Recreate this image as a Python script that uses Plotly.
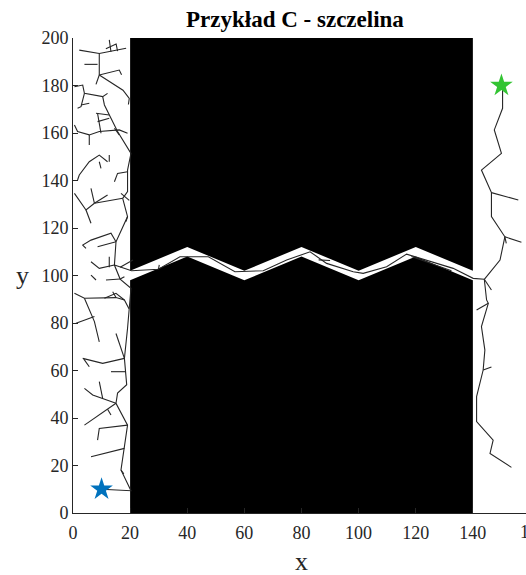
import plotly.graph_objects as go

# Workspace obstacles: two black blocks separated by a zig-zag slot
slot_x = [20, 40, 60, 80, 100, 120, 140]
slot_upper = [102, 112, 102, 112, 102, 112, 102]
slot_lower = [98, 108, 98, 108, 98, 108, 98]
y_top, y_bottom = 200, 0

start_pt = (10, 10)
goal_pt = (150, 180)

# RRT branches grown on the left of the obstacle (polylines, x/y pairs)
left_branches = [
    [(10, 10), (20.3, 9.4), (16.8, 18.1), (18, 27.2), (19.1, 37), (15.05, 46.2), (15.6, 50.5),
     (18.8, 54), (18.5, 59.5), (18, 65.1), (19.1, 77.8), (19.6, 86), (20.3, 94.6), (16.5, 98.5),
     (14.5, 104.4), (15.05, 114.2), (19.1, 124.8), (17.4, 132.5), (19.1, 135.3), (19.1, 144.4),
     (20.3, 151.4), (15.6, 160.6), (12.7, 167.6), (11, 171.8), (10.4, 175.3)],
    [(16.8, 18.1), (17.8, 16.5)],
    [(6.3, 23.7), (18, 27.2)],
    [(19.1, 37), (13.9, 36.3), (9.2, 35.6), (8.6, 30.7)],
    [(15.05, 46.2), (4, 37)],
    [(12.1, 43.7), (13.3, 41.3)],
    [(15.05, 46.2), (6.9, 49.7), (4, 52.5)],
    [(10.4, 48.2), (9.2, 55.3)],
    [(18.5, 59.5), (13.3, 59.5)],
    [(18, 65.1), (10.4, 63), (3.4, 65.1)],
    [(3.8, 64.8), (5.7, 61.6)],
    [(18, 65.1), (17.4, 67.2), (15.05, 75.6)],
    [(19.6, 86), (18, 89.7), (15.05, 90.7), (4, 90.4), (0.5, 92.5)],
    [(15.05, 90.7), (13.9, 93.2)],
    [(11, 90.4), (15.05, 92.5), (18, 89.7)],
    [(4, 90.4), (7.5, 80.6), (9.2, 72.1)],
    [(1.05, 79.9), (7.5, 82.7)],
    [(16.5, 98.5), (11.55, 98.1)],
    [(16.5, 98.5), (18, 99.5)],
    [(8.05, 98.1), (6.3, 100.2)],
    [(14.5, 104.4), (9.2, 103), (6.3, 105.8)],
    [(12.7, 107.9), (12.7, 103.5)],
    [(16.5, 103.5), (21, 106.5)],
    [(15.05, 114.2), (8.6, 112.1)],
    [(15.05, 114.2), (13.3, 117.8), (6.3, 114.9), (3.4, 112.8), (4.55, 111.4)],
    [(19.1, 124.8), (18.55, 122.7)],
    [(17.4, 132.5), (7.5, 130.4)],
    [(7.5, 130.4), (4.55, 127.6), (0.5, 134.6)],
    [(4.55, 127.6), (6.3, 122)],
    [(7.5, 130.4), (6.3, 136.7)],
    [(7.5, 130.4), (12.1, 133.9)],
    [(16.8, 134.6), (19.7, 131.6)],
    [(19.1, 143.7), (15.6, 143), (14.5, 139.5)],
    [(1.6, 140.2), (2.2, 142.3), (5.7, 147.9), (9.2, 150.7), (12.1, 147.9)],
    [(9.2, 147.9), (9.8, 145.1)],
    [(12.7, 150.7), (12.7, 147.9)],
    [(0.5, 163.4), (1.6, 160.6), (5.7, 159.2), (9.2, 160.6), (16.2, 161.3), (19.1, 159.9)],
    [(5.7, 159.2), (5.7, 154.9)],
    [(14.5, 162), (16.2, 159.2)],
    [(8.05, 168.3), (12.7, 167.6)],
    [(8.6, 164.8), (12.7, 166.2)],
    [(8.6, 168.3), (9.8, 159.9)],
    [(0.5, 179.5), (3.4, 180.2), (4, 176.7), (10.4, 175.3), (12.1, 176.7)],
    [(4, 176.7), (2.8, 171.1), (1.6, 170.4)],
    [(2.8, 171.8), (5.7, 172.5)],
    [(9.2, 184.4), (17.5, 178), (19.7, 174.6), (19.4, 172)],
    [(9.2, 184.4), (16.2, 186.5), (17, 184.5)],
    [(8.05, 180.5), (9.2, 184.4)],
    [(9.2, 193.5), (9.2, 184.4)],
    [(4, 188.9), (8.6, 188.9)],
    [(2.2, 194.9), (9.2, 193.5), (18.6, 195.7)],
    [(11.5, 195.5), (15.1, 197.5), (15.6, 194.5)],
    [(12.7, 199.2), (13.3, 194.2)],
]

# Branches threading through the slot
slot_branches = [
    [(14.5, 104.4), (20.5, 102), (29.9, 102.6), (37.45, 107.9), (47.4, 107.9), (56.7, 101.6),
     (66.6, 102), (74.8, 106.5), (83, 110), (88.8, 105.1), (98.1, 101.6), (101.6, 100.9),
     (109.8, 103.7), (116.8, 109), (133.1, 103), (140.1, 98.8), (144, 98.4)],
    [(29.9, 102.6), (30.2, 104.5)],
    [(86, 106.6), (90, 106.3)],
    [(118.5, 108.0), (132.5, 102.0)],
]

# Branches on the right of the obstacle, up to the goal
right_branches = [
    [(144, 98.4), (149.5, 106.5), (151.2, 116.3), (146.5, 124.8), (146.5, 134.9), (143, 144.4),
     (150, 151.4), (147.5, 161.3), (150.4, 170.4), (150.4, 179.8)],
    [(146.5, 134.9), (155.9, 131.8)],
    [(151.2, 116.3), (157, 114)],
    [(151.2, 116.3), (151.7, 113.5)],
    [(144, 98.4), (146.5, 93.9)],
    [(144, 98.4), (144.8, 89.7), (145.4, 88.3), (143, 78.5), (144.2, 68.6), (143.6, 60.2),
     (141.3, 49), (141.3, 38.5), (147.1, 30.7), (146, 25.1), (153.5, 19.2)],
    [(145.4, 88.3), (141.3, 85.5)],
    [(143.6, 60.2), (146.5, 61.5)],
]

x_ticks = [0, 20, 40, 60, 80, 100, 120, 140, 160]
y_ticks = [0, 20, 40, 60, 80, 100, 120, 140, 160, 180, 200]
x_range = [0, 158.6]
y_range = [0, 200]

SERIF = "Liberation Serif, Times New Roman, serif"
AXIS_COLOR = "#262626"
TICK_SIZE = 18

fig = go.Figure()

# obstacle blocks
upper_x = slot_x + [slot_x[-1], slot_x[0]]
upper_y = slot_upper + [y_top, y_top]
lower_x = slot_x + [slot_x[-1], slot_x[0]]
lower_y = slot_lower + [y_bottom, y_bottom]
for px, py in ((upper_x, upper_y), (lower_x, lower_y)):
    fig.add_trace(go.Scatter(x=px, y=py, fill="toself", fillcolor="black",
                             mode="lines", line=dict(width=0, color="black"),
                             hoverinfo="skip", showlegend=False))

# tree edges as one None-separated line trace
ex, ey = [], []
for branch in left_branches + slot_branches + right_branches:
    for (bx, by) in branch:
        ex.append(bx)
        ey.append(by)
    ex.append(None)
    ey.append(None)
fig.add_trace(go.Scatter(x=ex, y=ey, mode="lines",
                         line=dict(color="#262626", width=1.1),
                         hoverinfo="skip", showlegend=False))

# start and goal markers
fig.add_trace(go.Scatter(x=[start_pt[0]], y=[start_pt[1]], mode="markers",
                         marker=dict(symbol="star", size=17, color="#0072BD",
                                     line=dict(width=0)),
                         showlegend=False, cliponaxis=False))
fig.add_trace(go.Scatter(x=[goal_pt[0]], y=[goal_pt[1]], mode="markers",
                         marker=dict(symbol="star", size=17, color="#33c433",
                                     line=dict(width=0)),
                         showlegend=False, cliponaxis=False))

W, H = 526, 575
ML, MT, MB, MR = 73, 38, 62, 0

fig.update_layout(
    width=W, height=H,
    margin=dict(l=ML, r=MR, t=MT, b=MB),
    paper_bgcolor="white", plot_bgcolor="white",
    font=dict(family=SERIF, size=TICK_SIZE, color=AXIS_COLOR),
    title=dict(text="<b>Przykład C - szczelina</b>",
               font=dict(family=SERIF, size=23, color="black"),
               x=0.49, xanchor="center", xref="paper",
               y=1 - 19 / H, yanchor="middle", yref="container"),
    xaxis=dict(range=x_range, tickvals=x_ticks, ticks="inside", ticklen=5,
               tickcolor=AXIS_COLOR, showline=True, linecolor=AXIS_COLOR,
               linewidth=1, showgrid=False, zeroline=False, mirror=False,
               ticklabelstandoff=3,
               tickfont=dict(family=SERIF, size=TICK_SIZE, color=AXIS_COLOR)),
    yaxis=dict(range=y_range, tickvals=y_ticks, ticks="inside", ticklen=5,
               tickcolor=AXIS_COLOR, showline=True, linecolor=AXIS_COLOR,
               linewidth=1, showgrid=False, zeroline=False, mirror=False,
               tickfont=dict(family=SERIF, size=TICK_SIZE, color=AXIS_COLOR)),
)

plot_w = W - ML - MR
plot_h = H - MT - MB

# the last x tick sits just past the visible frame; its label is cut at the edge
last_tick = x_ticks[-1]
fig.add_annotation(text=str(last_tick), xref="paper", yref="paper",
                   x=(last_tick - x_range[0]) / (x_range[1] - x_range[0]), y=0,
                   xanchor="center", yanchor="middle", xshift=4, yshift=-19,
                   showarrow=False,
                   font=dict(family=SERIF, size=TICK_SIZE, color=AXIS_COLOR))

# axis labels
fig.add_annotation(text="x", xref="paper", yref="paper",
                   x=(301 - ML) / plot_w, y=-48 / plot_h,
                   xanchor="center", yanchor="middle", showarrow=False,
                   font=dict(family=SERIF, size=26, color=AXIS_COLOR))
fig.add_annotation(text="y", xref="paper", yref="paper",
                   x=-51 / plot_w, y=0.5,
                   xanchor="center", yanchor="middle", showarrow=False,
                   font=dict(family=SERIF, size=26, color=AXIS_COLOR))

fig.write_html("out.html")
